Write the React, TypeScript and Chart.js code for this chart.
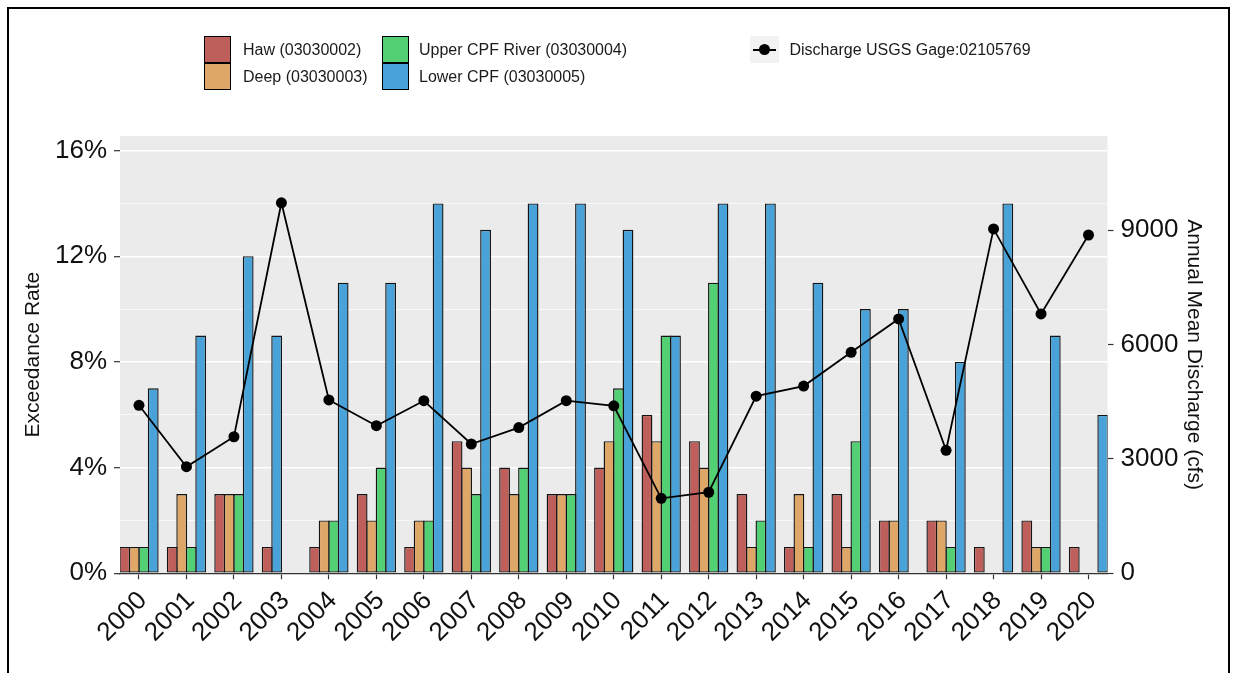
import React, { useEffect, useRef } from 'react';
import { Chart, registerables } from 'chart.js';

Chart.register(...registerables);

// ---------------- data ----------------
const years = [2000, 2001, 2002, 2003, 2004, 2005, 2006, 2007, 2008, 2009, 2010, 2011, 2012, 2013, 2014, 2015, 2016, 2017, 2018, 2019, 2020];
const haw = [1, 1, 3, 1, 1, 3, 1, 5, 4, 3, 4, 6, 5, 3, 1, 3, 2, 2, 1, 2, 1];
const deep = [1, 3, 3, null, 2, 2, 2, 4, 3, 3, 5, 5, 4, 1, 3, 1, 2, 2, 0, 1, 0];
const upper = [1, 1, 3, null, 2, 4, 2, 3, 4, 3, 7, 9, 11, 2, 1, 5, null, 1, 0, 1, 0];
const lower = [7, 9, 12, 9, 11, 11, 14, 13, 14, 14, 13, 9, 14, 14, 11, 10, 10, 8, 14, 9, 6];
const discharge = [4405, 2795, 3580, 9715, 4545, 3870, 4525, 3390, 3820, 4525, 4390, 1965, 2125, 4645, 4910, 5795, 6670, 3225, 9030, 6800, 8870];

const seriesNames = ['Haw (03030002)', 'Deep (03030003)', 'Upper CPF River (03030004)', 'Lower CPF (03030005)'];
const seriesColors = ['#BE5F5C', '#DFA767', '#53CF74', '#49A3D8'];
const lineName = 'Discharge USGS Gage:02105769';

const leftTicks = [0, 2, 4, 6, 8, 10, 12, 14, 16];
const rightTicks = [0, 3000, 6000, 9000];
const LEFT_MAX = 16.55;
const CFS_PER_PCT = 692.8;
const SLOT = 0.2; // dodge width of one bar, in years

const FONT = '"Liberation Sans", Arial, Helvetica, sans-serif';

const allSeries = [haw, deep, upper, lower];

function slotOf(si: number, yi: number): number {
  let k = 0;
  for (let s = 0; s < si; s++) if (allSeries[s][yi] !== null) k++;
  return k;
}

const panelBg = {
  id: 'panelBg',
  beforeDraw(chart: any) {
    const { ctx, chartArea } = chart;
    if (!chartArea) return;
    ctx.save();
    ctx.fillStyle = '#EBEBEB';
    ctx.fillRect(chartArea.left, chartArea.top, chartArea.right - chartArea.left, chartArea.bottom - chartArea.top);
    ctx.restore();
  },
};

export default function App() {
  const ref = useRef<HTMLCanvasElement | null>(null);

  useEffect(() => {
    if (!ref.current) return;
    const barSets = allSeries.map((arr, si) => ({
      type: 'bar' as const,
      label: seriesNames[si],
      data: years.flatMap((yr, yi) =>
        arr[yi] === null ? [] : [{ x: yr + (slotOf(si, yi) - 1.5) * SLOT, y: arr[yi] as number }]
      ),
      backgroundColor: seriesColors[si],
      borderColor: '#141414',
      borderWidth: 1.4,
      borderSkipped: false,
      grouped: false,
      barPercentage: 1.14,
      categoryPercentage: 1,
      xAxisID: 'x',
      yAxisID: 'y',
      order: 1,
    }));

    const chart = new Chart(ref.current, {
      type: 'bar',
      data: {
        datasets: [
          {
            type: 'line' as const,
            label: lineName,
            data: years.map((yr, i) => ({ x: yr, y: discharge[i] })),
            borderColor: '#000',
            borderWidth: 1.8,
            pointRadius: 5.5,
            pointBackgroundColor: '#000',
            pointBorderColor: '#000',
            pointBorderWidth: 0,
            tension: 0,
            xAxisID: 'x',
            yAxisID: 'y1',
            order: 0,
          } as any,
          ...(barSets as any[]),
        ],
      },
      options: {
        animation: false,
        responsive: false,
        devicePixelRatio: 1,
        layout: { padding: { top: 129, left: 0, right: 0, bottom: 0 } },
        plugins: { legend: { display: false }, tooltip: { enabled: false }, title: { display: false } },
        scales: {
          x: {
            type: 'linear',
            min: years[0] - 2 * SLOT,
            max: years[years.length - 1] + 2 * SLOT,
            offset: false,
            afterBuildTicks: (s: any) => {
              s.ticks = years.map((v) => ({ value: v }));
            },
            afterFit: (s: any) => {
              s.height = 90.7;
            },
            grid: {
              display: true,
              offset: false,
              drawOnChartArea: false,
              drawTicks: true,
              tickLength: 6,
              tickColor: '#333',
              tickWidth: 1.2,
            },
            border: { display: true, color: '#333', width: 1.2 },
            ticks: {
              autoSkip: false,
              minRotation: 45,
              maxRotation: 45,
              padding: 6,
              labelOffset: 4,
              color: '#111',
              font: { family: FONT, size: 26 },
              callback: (v: any) => String(v),
            },
          },
          y: {
            type: 'linear',
            position: 'left',
            min: 0,
            max: LEFT_MAX,
            afterBuildTicks: (s: any) => {
              s.ticks = leftTicks.map((v) => ({ value: v }));
            },
            afterFit: (s: any) => {
              s.width = 113;
            },
            grid: {
              display: true,
              drawOnChartArea: true,
              drawTicks: true,
              color: '#FFFFFF',
              lineWidth: (c: any) => (c.tick && c.tick.value % 4 === 0 ? 1.4 : 0.7),
              tickLength: 6,
              tickColor: (c: any) => (c.tick && c.tick.value % 4 === 0 ? '#333' : 'rgba(0,0,0,0)'),
              tickWidth: 1.2,
            },
            border: { display: false },
            ticks: {
              padding: 7,
              color: '#111',
              font: { family: FONT, size: 26 },
              callback: (v: any) => (Number(v) % 4 === 0 ? `${v}%` : ''),
            },
            title: {
              display: true,
              text: 'Exceedance Rate',
              color: '#111',
              font: { family: FONT, size: 21 },
              padding: { top: 14, bottom: 0 },
            },
          },
          y1: {
            type: 'linear',
            position: 'right',
            min: 0,
            max: LEFT_MAX * CFS_PER_PCT,
            afterBuildTicks: (s: any) => {
              s.ticks = rightTicks.map((v) => ({ value: v }));
            },
            afterFit: (s: any) => {
              s.width = 122.5;
            },
            grid: {
              display: true,
              drawOnChartArea: false,
              drawTicks: true,
              tickLength: 6,
              tickColor: '#333',
              tickWidth: 1.2,
            },
            border: { display: false },
            ticks: {
              padding: 7,
              color: '#111',
              font: { family: FONT, size: 26 },
              callback: (v: any) => String(v),
            },
            title: {
              display: true,
              text: 'Annual Mean Discharge (cfs)',
              color: '#111',
              font: { family: FONT, size: 21 },
              padding: { top: 23.4, bottom: 0 },
            },
          },
        },
      } as any,
      plugins: [panelBg],
    });
    return () => chart.destroy();
  }, []);

  const keyBox = (left: number, top: number, color: string) => (
    <div
      style={{
        position: 'absolute',
        left,
        top,
        width: 27,
        height: 27,
        boxSizing: 'border-box',
        border: '1.5px solid #000',
        background: color,
      }}
    />
  );
  const keyText = (left: number, top: number, text: string) => (
    <div
      style={{
        position: 'absolute',
        left,
        top,
        height: 27,
        lineHeight: '27px',
        fontFamily: FONT,
        fontSize: 16,
        color: '#1a1a1a',
        whiteSpace: 'nowrap',
      }}
    >
      {text}
    </div>
  );

  return (
    <div
      style={{
        position: 'fixed',
        left: 7,
        top: 7,
        width: 1223,
        height: 666,
        overflow: 'hidden',
        background: '#fff',
      }}
    >
      <canvas ref={ref} width={1223} height={657} style={{ position: 'absolute', left: 0, top: 0, width: 1223, height: 657 }} />
      {keyBox(197, 29, seriesColors[0])}
      {keyBox(197, 56, seriesColors[1])}
      {keyText(236, 29, seriesNames[0])}
      {keyText(236, 56, seriesNames[1])}
      {keyBox(374.5, 29, seriesColors[2])}
      {keyBox(374.5, 56, seriesColors[3])}
      {keyText(412, 29, seriesNames[2])}
      {keyText(412, 56, seriesNames[3])}
      <div style={{ position: 'absolute', left: 742.5, top: 29, width: 29, height: 27, background: '#F2F2F2' }}>
        <div style={{ position: 'absolute', left: 3, right: 3, top: 12.5, height: 2, background: '#000' }} />
        <div
          style={{ position: 'absolute', left: 9, top: 8, width: 11, height: 11, borderRadius: '50%', background: '#000' }}
        />
      </div>
      {keyText(782.5, 29, lineName)}
      <div
        style={{
          position: 'absolute',
          left: 0,
          top: 0,
          width: 1223,
          height: 720,
          boxSizing: 'border-box',
          border: '2px solid #000',
          pointerEvents: 'none',
        }}
      />
    </div>
  );
}
